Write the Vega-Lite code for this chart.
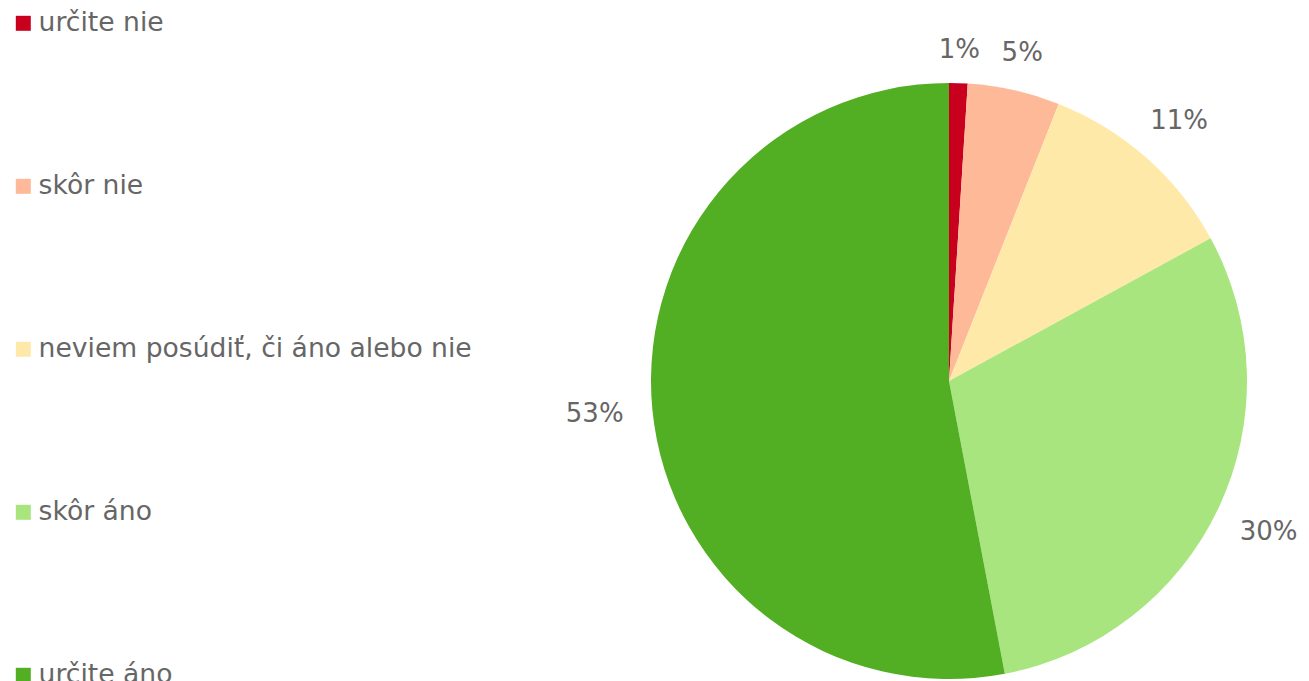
{
  "$schema": "https://vega.github.io/schema/vega-lite/v6.json",
  "autosize": {"type": "none"},
  "padding": {"left": 589, "top": 0, "right": 0, "bottom": 0},
  "width": 720,
  "height": 762,
  "background": "white",
  "config": {"view": {"stroke": null}},
  "data": {"values": [
    {"k": "určite nie", "v": 1.0, "o": 1, "lab": "1%"},
    {"k": "skôr nie", "v": 5.0, "o": 2, "lab": "5%"},
    {"k": "neviem posúdiť, či áno alebo nie", "v": 11.05, "o": 3, "lab": "11%"},
    {"k": "skôr áno", "v": 29.95, "o": 4, "lab": "30%"},
    {"k": "určite áno", "v": 53.0, "o": 5, "lab": "53%"}
  ]},
  "encoding": {
    "theta": {"field": "v", "type": "quantitative", "stack": true},
    "order": {"field": "o", "type": "quantitative"}
  },
  "layer": [
    {
      "mark": {"type": "arc", "outerRadius": 298},
      "encoding": {
        "color": {
          "field": "k", "type": "nominal",
          "scale": {
            "domain": ["určite nie", "skôr nie", "neviem posúdiť, či áno alebo nie", "skôr áno", "určite áno"],
            "range": ["#C8001E", "#FDB998", "#FFE9A9", "#A9E57F", "#52AE22"]
          },
          "legend": {
            "orient": "none",
            "legendX": -579,
            "legendY": 10,
            "title": null,
            "padding": 0,
            "symbolType": "square",
            "symbolSize": 225,
            "symbolStrokeWidth": 0,
            "symbolOffset": 0,
            "labelFont": "DejaVu Sans",
            "labelFontSize": 26.6,
            "labelColor": "#666666",
            "labelOffset": 2,
            "labelLimit": 600,
            "rowPadding": 136
          }
        }
      }
    },
    {
      "mark": {"type": "text", "radius": {"expr": "330 + 26*abs(sin(PI*(datum.v_start+datum.v_end)/100))"}, "font": "DejaVu Sans", "fontSize": 26, "color": "#666666"},
      "encoding": {"text": {"field": "lab"}}
    }
  ]
}
